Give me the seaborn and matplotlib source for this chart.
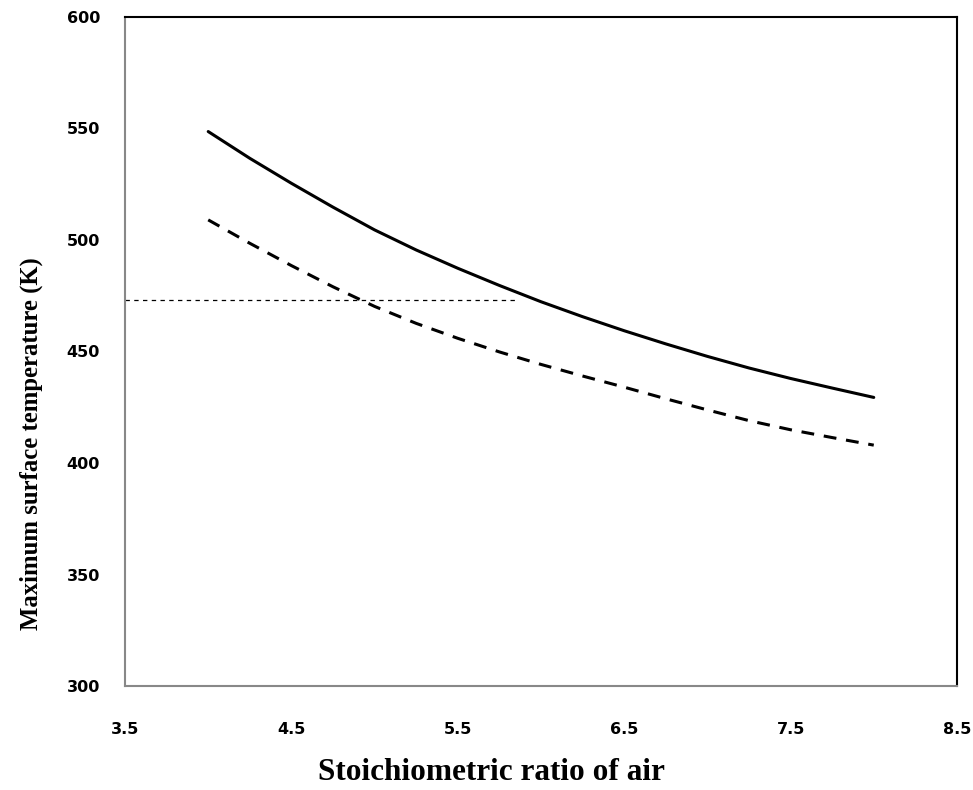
import matplotlib
matplotlib.use('Agg')
import matplotlib.pyplot as plt
import pandas as pd
import seaborn as sns

# Data
ratio = [4.0, 4.25, 4.5, 4.75, 5.0, 5.25, 5.5, 5.75, 6.0, 6.25, 6.5, 6.75, 7.0, 7.25, 7.5, 7.75, 8.0]
temp_solid = [548.6, 536.6, 525.4, 514.7, 504.5, 495.5, 487.3, 479.6, 472.3, 465.6, 459.3, 453.4,
              447.8, 442.6, 437.9, 433.6, 429.4]
temp_dashed = [509.0, 498.5, 488.5, 479.0, 470.2, 462.6, 455.9, 449.8, 444.2, 439.0, 434.0, 428.8,
               423.8, 419.0, 414.9, 411.4, 408.0]
limit_x = [3.5, 5.85]
limit_y = [473, 473]

x_ticks = [3.5, 4.5, 5.5, 6.5, 7.5, 8.5]
y_ticks = [300, 350, 400, 450, 500, 550, 600]

df = pd.DataFrame({'ratio': ratio, 'solid': temp_solid, 'dashed': temp_dashed})
limit = pd.DataFrame({'x': limit_x, 'y': limit_y})

sns.set_style('white')
fig = plt.figure(figsize=(9.73, 7.9), dpi=100)
ax = fig.add_axes([0.1285, 0.1316, 0.855, 0.847])

sns.lineplot(x='ratio', y='solid', data=df, color='black', linewidth=2.2, ax=ax)
sns.lineplot(x='ratio', y='dashed', data=df, color='black', linewidth=2.2, linestyle=(0, (4.2, 3.2)), ax=ax)
sns.lineplot(x='x', y='y', data=limit, color='black', linewidth=0.9, linestyle=(0, (3.5, 3.5)), ax=ax)

ax.set_xlim(3.5, 8.5)
ax.set_ylim(300, 600)
ax.set_xticks(x_ticks)
ax.set_yticks(y_ticks)
ax.set_xticklabels([str(v) for v in x_ticks], fontsize=11.5, fontweight='bold', family='DejaVu Sans')
ax.set_yticklabels([str(v) for v in y_ticks], fontsize=11.5, fontweight='bold', family='DejaVu Sans')
ax.tick_params(axis='both', direction='in', length=7, width=1, color='#888888', labelcolor='black')
ax.tick_params(axis='x', pad=26)
ax.tick_params(axis='y', pad=18)

for side in ['left', 'bottom']:
    ax.spines[side].set_color('#888888')
    ax.spines[side].set_linewidth(1.5)
for side in ['top', 'right']:
    ax.spines[side].set_color('black')
    ax.spines[side].set_linewidth(1.5)

ax.set_xlabel('Stoichiometric ratio of air', fontsize=22.5, fontweight='bold', family='Liberation Serif',
              color='black')
ax.set_ylabel('Maximum surface temperature (K)', fontsize=17.8, fontweight='bold', family='Liberation Serif',
              color='black')
ax.xaxis.set_label_coords(0.44, -0.108)
ax.yaxis.set_label_coords(-0.099, 0.362)

fig.savefig('out.png', dpi=100)
